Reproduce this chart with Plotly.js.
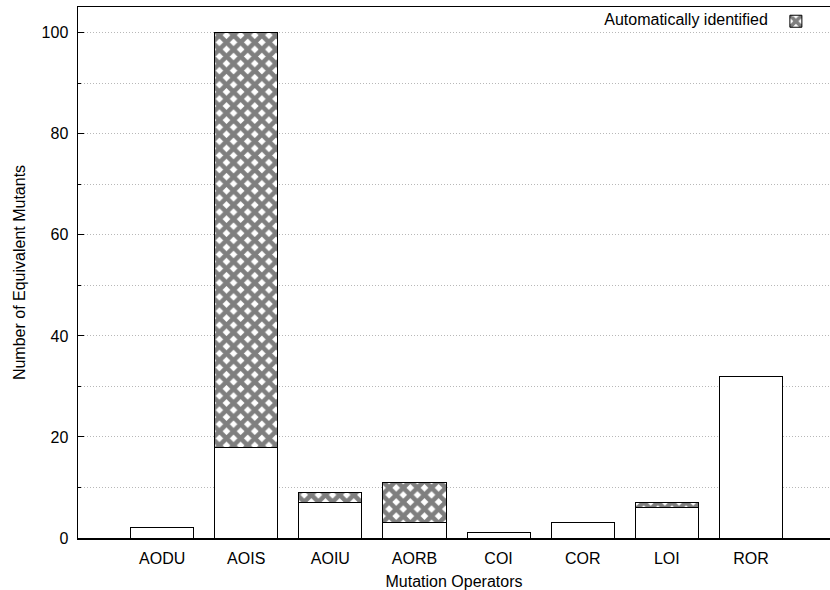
<!DOCTYPE html>
<html>
<head>
<meta charset="utf-8">
<script src="https://cdn.plot.ly/plotly-3.0.1.min.js"></script>
<style>html,body{margin:0;padding:0;background:#fff;}#chart{width:830px;height:590px;}</style>
</head>
<body>
<div id="chart"></div>
<script>
var categories = ["AODU", "AOIS", "AOIU", "AORB", "COI", "COR", "LOI", "ROR"];
var manualValues = [2, 18, 7, 3, 1, 3, 6, 32];
var autoValues = [0, 82, 2, 8, 0, 0, 1, 0];
var yTickVals = [0, 20, 40, 60, 80, 100];

var fontFam = "Liberation Sans, Arial, Helvetica, sans-serif";

var traces = [
  {
    type: "bar",
    x: categories,
    y: manualValues,
    name: "Manual",
    showlegend: false,
    width: 0.75,
    marker: {color: "#ffffff", line: {color: "#000000", width: 1}}
  },
  {
    type: "bar",
    x: categories,
    y: autoValues,
    name: " ",
    width: 0.75,
    marker: {
      color: "#ffffff",
      line: {color: "#000000", width: 1},
      pattern: {shape: "x", fgcolor: "#000000", bgcolor: "#ffffff", size: 10, solidity: 0.7, fillmode: "overlay"}
    }
  }
];

var layout = {
  width: 830,
  height: 590,
  margin: {l: 78, r: 0, t: 7, b: 52},
  paper_bgcolor: "#ffffff",
  plot_bgcolor: "#ffffff",
  barmode: "stack",
  font: {family: fontFam, size: 16, color: "#000000"},
  showlegend: true,
  legend: {
    x: 0.995, xanchor: "right", y: 1.005, yanchor: "top",
    bgcolor: "rgba(0,0,0,0)",
    font: {family: fontFam, size: 16},
    title: {text: "Automatically identified", side: "left", font: {family: fontFam, size: 16}}
  },
  xaxis: {
    type: "category",
    range: [-1, 7.94],
    showline: true, linecolor: "#000000", linewidth: 1.5,
    mirror: true,
    ticks: "", showgrid: false, zeroline: false,
    ticklabelstandoff: 5,
    tickfont: {family: fontFam, size: 16},
    title: {text: "Mutation Operators", font: {family: fontFam, size: 16}, standoff: 11}
  },
  yaxis: {
    range: [0, 105.1],
    tickvals: yTickVals,
    ticks: "inside", ticklen: 6, tickcolor: "#000000",
    showline: true, linecolor: "#000000", linewidth: 1.5,
    mirror: false,
    ticklabelstandoff: 5,
    showgrid: true, gridcolor: "#b8b8b8", griddash: "1px,2px", gridwidth: 1,
    minor: {dtick: 10, showgrid: true, gridcolor: "#b8b8b8", griddash: "1px,2px", ticks: "inside", ticklen: 3, tickcolor: "#000000"},
    zeroline: false,
    tickfont: {family: fontFam, size: 16},
    title: {text: "Number of Equivalent Mutants", font: {family: fontFam, size: 16}, standoff: 12}
  }
};

Plotly.newPlot("chart", traces, layout, {displayModeBar: false, staticPlot: true});
</script>
</body>
</html>
